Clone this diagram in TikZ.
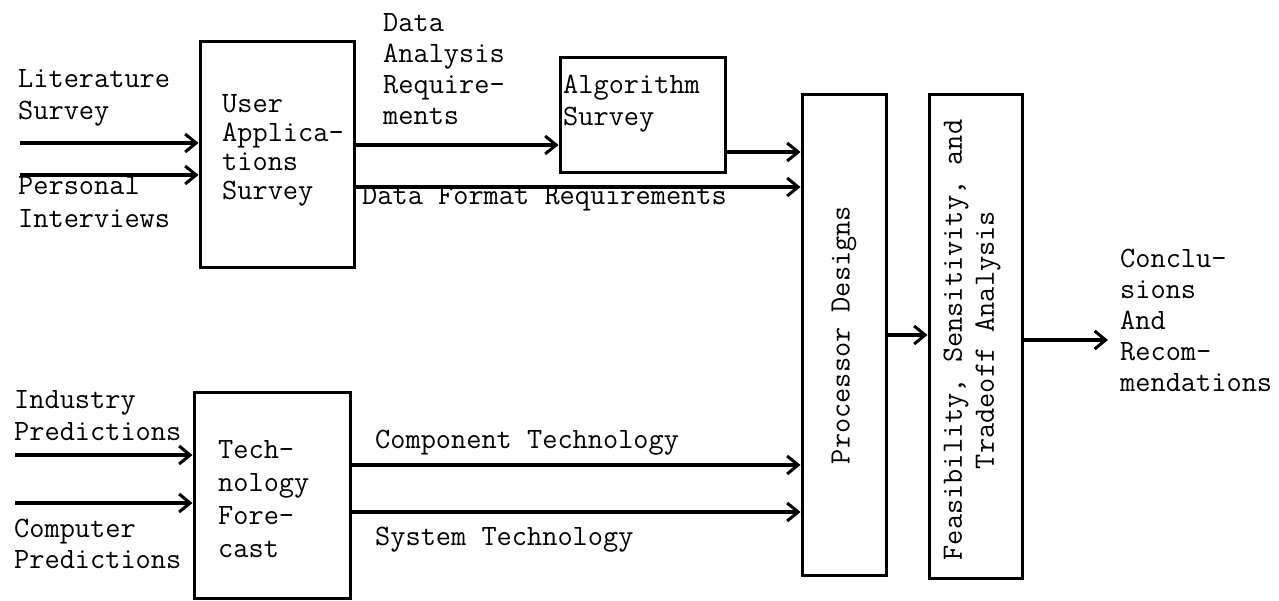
\documentclass[tikz,border=0pt]{standalone}
\usepackage{fontspec}
\usetikzlibrary{arrows.meta}

% stacked label lines, baseline on the first line
\newcommand{\stacklines}[1]{\begin{tabular}[t]{@{}l@{}}#1\end{tabular}}
% typewriter face at a given line pitch
\newcommand{\tw}[1]{\ttfamily\fontsize{29.5}{#1}\selectfont}

\begin{document}
\begin{tikzpicture}[x=1pt, y=-1pt,
  blk/.style={draw, line width=3pt, rectangle, inner sep=0pt},
  arr/.style={line width=3.4pt, -{Straight Barb[length=11pt, width=18pt, line width=3pt]}},
  lbl/.style={font=\tw{31.5}, inner sep=0pt, anchor=base west},
  vlbl/.style={font=\tw{32}, inner sep=0pt, rotate=90, align=center}]

\useasboundingbox (0,0) rectangle (1279,601);

% process blocks
\node[blk, minimum width=154, minimum height=226] (user) at (277,155) {};
\node[blk, minimum width=165, minimum height=115] (alg)  at (642.5,115.5) {};
\node[blk, minimum width=156, minimum height=206] (tech) at (272,495) {};
\node[blk, minimum width=84,  minimum height=480] (proc) at (844,335) {};
\node[blk, minimum width=93,  minimum height=483] (feas) at (975.5,336.5) {};

% block texts
\node[lbl, font=\tw{29}] (usertxt) at (222,113) {\stacklines{User\\Applica-\\tions\\Survey}};
\node[lbl, font=\tw{32}] (algtxt) at (563,94) {\stacklines{Algorithm\\Survey}};
\node[lbl, font=\tw{33}] (techtxt) at (218,458) {\stacklines{Tech-\\nology\\Fore-\\cast}};
\node[vlbl] (proctxt) at (proc.center) {Processor Designs};
\node[vlbl] (feastxt) at (972,340) {Feasibility, Sensitivity, and\\Tradeoff Analysis};

% input and flow labels
\node[lbl, font=\tw{32}] (littxt) at (18,88) {\stacklines{Literature\\Survey}};
\node[lbl, font=\tw{33}] (perstxt) at (18,195) {\stacklines{Personal\\Interviews}};
\node[lbl, font=\tw{32}] (indtxt) at (14,408) {\stacklines{Industry\\Predictions}};
\node[lbl, font=\tw{31}] (comptxt) at (14,537) {\stacklines{Computer\\Predictions}};
\node[lbl, font=\tw{31}] (dartxt) at (383,32) {\stacklines{Data\\Analysis\\Require-\\ments}};
\node[lbl] (dfrtxt) at (362,205) {Data Format Requirements};
\node[lbl] (cttxt) at (375,448) {Component Technology};
\node[lbl] (sttxt) at (375,545) {System Technology};
\node[lbl, font=\tw{31}] (concltxt) at (1120,268) {\stacklines{Conclu-\\sions\\And\\Recom-\\mendations}};

% free ends and flow levels
\coordinate (litin)  at (20,143);
\coordinate (persin) at (20,175);
\coordinate (indin)  at (15,455);
\coordinate (compin) at (15,503);
\coordinate (concl)  at (1108,340);
\coordinate (ydar) at (0,145);
\coordinate (yalg) at (0,152);
\coordinate (ydfr) at (0,187);
\coordinate (yct)  at (0,465);
\coordinate (yst)  at (0,512);
\coordinate (ypf)  at (0,335);

% connectors
\draw[arr] (litin)  -- (user.west |- litin);
\draw[arr] (persin) -- (user.west |- persin);
\draw[arr] (indin)  -- (tech.west |- indin);
\draw[arr] (compin) -- (tech.west |- compin);
\draw[arr] (user.east |- ydar) -- (alg.west |- ydar);
\draw[arr] (alg.east |- yalg) -- (proc.west |- yalg);
\draw[arr] (user.east |- ydfr) -- (proc.west |- ydfr);
\draw[arr] (tech.east |- yct) -- (proc.west |- yct);
\draw[arr] (tech.east |- yst) -- (proc.west |- yst);
\draw[arr] (proc.east |- ypf) -- (feas.west |- ypf);
\draw[arr] (feas.east |- concl) -- (concl);

\end{tikzpicture}
\end{document}
